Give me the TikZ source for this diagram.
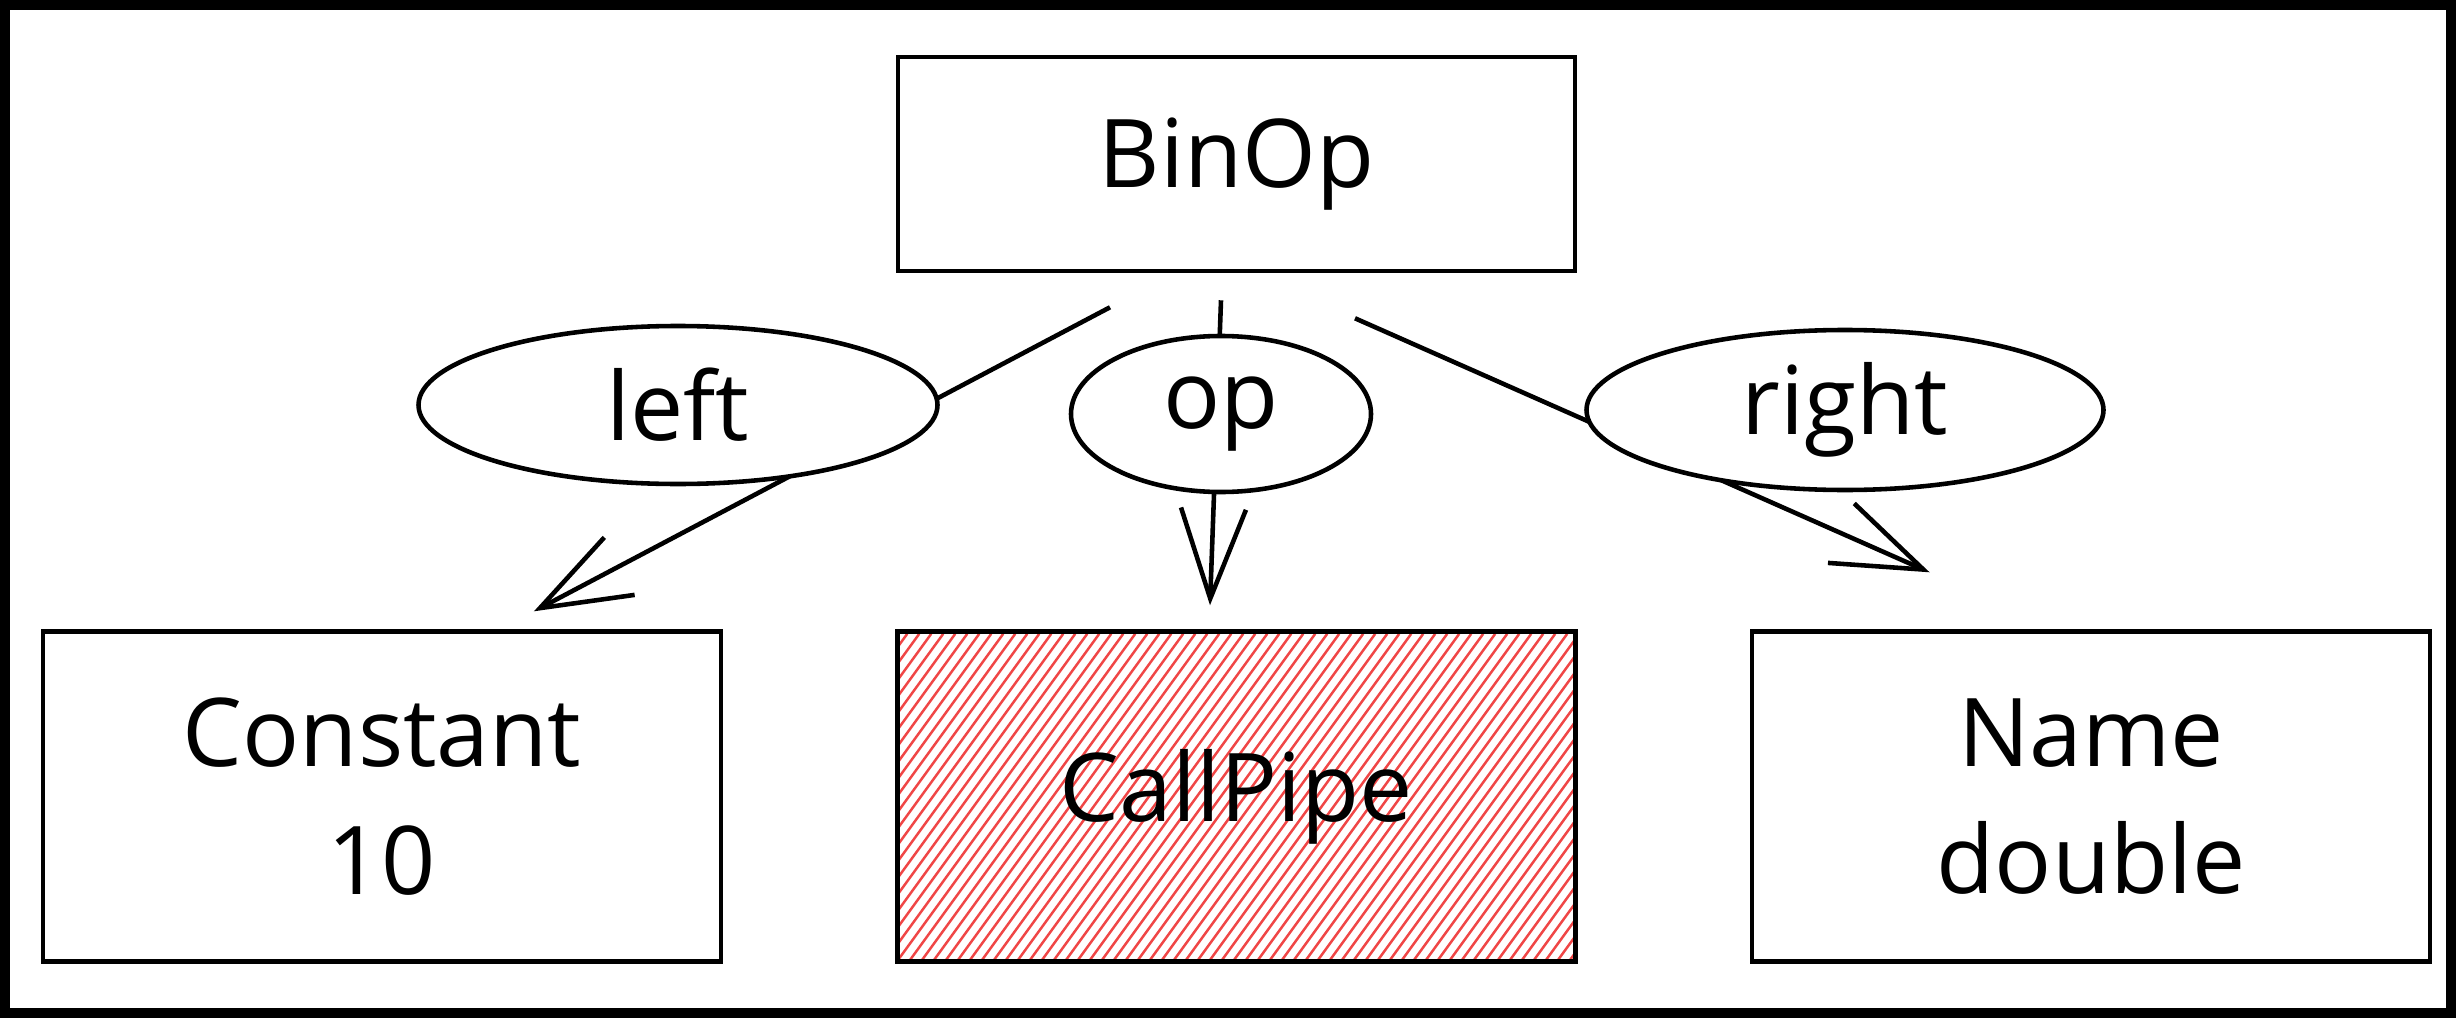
\documentclass[tikz,border=0pt]{standalone}
\usepackage{fontspec}
\setmainfont{Open Sans}
\usepackage{xcolor}
\usepackage{tikz}
\usetikzlibrary{shapes.geometric, arrows.meta, positioning, backgrounds, calc}

\definecolor{hatchred}{RGB}{240,70,70}

\begin{document}
\begin{tikzpicture}[
    node distance=1.72cm,
    box/.style={rectangle, draw, line width=1.3pt, minimum width=6.78cm, minimum height=3.3cm, align=center, font=\fontsize{27}{36.4}\selectfont},
    tag/.style={ellipse, draw, line width=1.3pt, fill=white, inner sep=0pt, font=\fontsize{27}{36.4}\selectfont},
    arrow/.style={-{Straight Barb[length=9mm, width=6.5mm]}, line width=1.3pt},
    hatch/.style={hatchred, line width=0.7pt}
]

% Frame
\useasboundingbox (0,0) rectangle (24.56,10.18);
\draw[line width=1mm] (0.05,0.05) rectangle (24.51,10.13);

% Tree
\node[box, minimum height=2.14cm, minimum width=6.77cm] (binop) at (12.365,8.54) {BinOp};
\node[box, below=3.56cm of binop] (callpipe) {CallPipe};
\node[box, left=of callpipe] (constant) {Constant\\10};
\node[box, right=of callpipe] (name) {Name\\double};

% Hatched fill
\begin{scope}[on background layer]
  \fill[white] (0,0) rectangle (24.56,10.18);
  \clip (callpipe.south west) rectangle (callpipe.north east);
  \foreach \i in {0,...,78}
    \draw[hatch] ($(callpipe.south west)+(\i*0.12-2.4,0)$) -- ++(2.4,3.3);
\end{scope}

% Edges
\draw[arrow] ([shift={(-1.265,-0.34)}]binop.south) -- ([shift={(1.52,0.18)}]constant.north);
\draw[arrow] ([shift={(-0.155,-0.27)}]binop.south) -- ([shift={(-0.265,0.24)}]callpipe.north);
\draw[arrow] ([shift={(1.185,-0.45)}]binop.south) -- ([shift={(-1.615,0.57)}]name.north);

% Edge labels
\node[tag, minimum width=5.19cm, minimum height=1.58cm] (leftlbl) at (6.78,6.13) {left};
\node[tag, minimum width=3.00cm, minimum height=1.56cm] (oplbl) at (12.21,6.04) {op};
\node[tag, minimum width=5.17cm, minimum height=1.60cm] (rightlbl) at (18.45,6.08) {right};

\end{tikzpicture}
\end{document}
